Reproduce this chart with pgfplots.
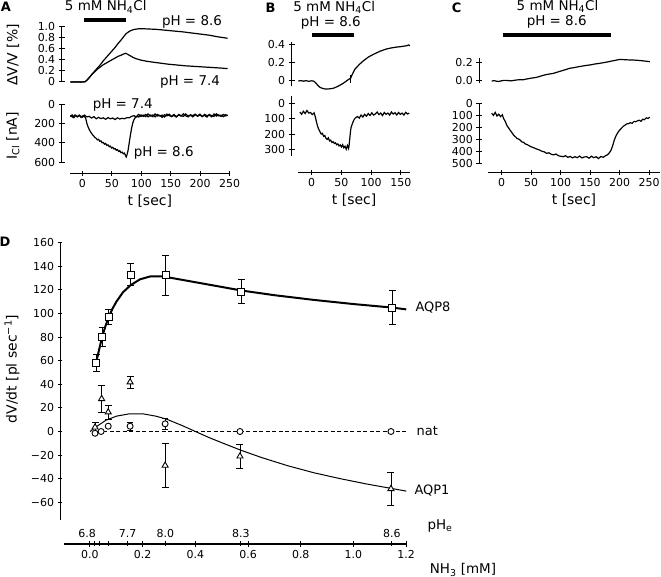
\documentclass[border=0pt]{standalone}
\usepackage{fontspec}
\setmainfont{DejaVu Sans}
\usepackage{pgfplots}
\pgfplotsset{compat=1.18}
\newcommand\fs[1]{\fontsize{#1}{#1}\selectfont}

\pgfplotsset{
  base/.style={scale only axis, clip=false,
    tick style={line width=1bp,black},
    major tick length=6bp, tick align=outside,
    /pgf/number format/assume math mode=true,
    tick label style={font=\fs{11}},
    cycle list={{black, mark=none}},
    every axis plot/.append style={line width=1.2bp}},
  noarrows/.style={axis line style={line width=1bp,-},
    x axis line style={-}, y axis line style={-}},
  trace/.style={base, axis x line=none, axis y line=left, xtick=\empty, noarrows},
  taxis/.style={base, axis x line=bottom, axis y line=none, ymin=0, ymax=1, y=1bp,
    ytick=\empty, major tick length=5bp, xtick={0,50,100,150,200,250},
    xlabel={t [sec]}, xlabel style={font=\fs{14}}, noarrows},
}

\begin{document}
\begin{tikzpicture}
\path[use as bounding box] (0,0) rectangle (661bp,577bp);

% ---------------- panel A ----------------
\begin{axis}[trace, at={(61.7bp,495bp)}, anchor=south west, x=0.589bp, y=55.7bp,
  xmin=-35.6, xmax=250, ymin=0, ymax=1,
  ytick={0,0.2,0.4,0.6,0.8,1}, yticklabels={0,0.2,0.4,0.6,0.8,1.0}]
\addplot[line width=4bp] coordinates {(2,1.113) (73.5,1.113)};
\addplot coordinates {(-21,0.002)(-15,-0.003)(-10,0.003)(-5,0)(0,0.002)(4,0.005)(8,0.04)(12,0.09)(16,0.14)(20,0.19)(25,0.25)(30,0.31)(35,0.38)(40,0.44)(45,0.5)(50,0.56)(55,0.62)(60,0.69)(65,0.75)(70,0.82)(74,0.87)(78,0.9)(82,0.925)(88,0.945)(95,0.955)(105,0.955)(115,0.95)(125,0.945)(140,0.93)(155,0.915)(170,0.9)(185,0.88)(200,0.86)(215,0.84)(230,0.81)(240,0.795)(246,0.785)};
\addplot coordinates {(-21,0)(-15,0.003)(-10,-0.002)(-5,0.002)(0,0)(4,0.004)(8,0.04)(12,0.09)(16,0.14)(20,0.18)(25,0.23)(30,0.27)(35,0.31)(40,0.34)(45,0.37)(50,0.4)(55,0.43)(60,0.46)(65,0.48)(70,0.505)(73,0.515)(76,0.5)(80,0.475)(85,0.445)(90,0.42)(100,0.39)(110,0.37)(120,0.355)(131,0.34)(145,0.32)(160,0.305)(175,0.29)(190,0.28)(205,0.27)(220,0.26)(235,0.25)(246,0.24)};
\end{axis}

\begin{axis}[trace, at={(61.7bp,414.7bp)}, anchor=south west, x=0.589bp, y=0.0967bp,
  y dir=reverse, xmin=-35.6, xmax=250, ymin=0, ymax=600, ytick={0,200,400,600}]
\addplot coordinates {(-21,118)(-17,132)(-13,110)(-9,128)(-5,115)(-1,135)(3,112)(7,130)(11,125)(15,142)(19,128)(23,150)(27,135)(31,148)(35,140)(39,155)(43,138)(47,150)(51,142)(55,158)(59,140)(63,152)(67,145)(71,150)(75,138)(79,140)(83,125)(87,118)(91,130)(95,105)(99,125)(103,112)(107,128)(111,100)(115,122)(119,110)(123,130)(127,105)(131,120)(135,112)(139,132)(143,102)(147,118)(151,125)(155,105)(159,128)(163,112)(167,122)(171,98)(175,120)(179,130)(183,108)(187,118)(191,102)(195,125)(199,110)(203,128)(207,104)(211,118)(215,112)(219,130)(223,100)(227,122)(231,110)(235,126)(239,105)(243,120)(246,112)};
\addplot coordinates {(-21,125)(-18,110)(-15,138)(-12,118)(-9,130)(-6,112)(-3,135)(0,120)(3,128)(5,140)(7,195)(9,232)(11,258)(13,282)(15,300)(17,318)(19,330)(21,345)(23,352)(25,368)(27,362)(29,382)(31,378)(33,398)(35,395)(37,412)(39,405)(41,425)(43,420)(45,438)(47,432)(49,452)(51,445)(53,462)(55,458)(57,475)(59,468)(61,488)(63,480)(65,500)(67,495)(69,512)(71,505)(73,535)(74,545)(75,528)(77,480)(79,400)(81,320)(83,250)(85,195)(87,160)(89,140)(92,125)(95,132)(99,110)(103,125)(107,105)(111,130)(115,112)(119,128)(123,100)(127,122)(131,115)(135,135)(139,108)(143,120)(147,102)(151,128)(155,115)(159,132)(163,105)(167,118)(171,125)(175,100)(179,122)(183,112)(187,130)(191,108)(195,120)(199,102)(203,125)(207,115)(211,132)(215,105)(219,118)(223,125)(227,98)(231,120)(235,112)(239,128)(243,108)(246,118)};
\end{axis}

\begin{axis}[taxis, at={(70bp,403.7bp)}, anchor=south west, x=0.589bp, xmin=-21, xmax=250]
\addplot[draw=none] coordinates {(0,0)};
\end{axis}

% ---------------- panel B ----------------
\begin{axis}[trace, at={(291.7bp,490.5bp)}, anchor=south west, x=0.595bp, y=91.7bp,
  xmin=-33.6, xmax=165, ymin=-0.06, ymax=0.43,
  ytick={0,0.2,0.4}, yticklabels={0,0.2,0.4}]
\addplot[line width=4bp] coordinates {(0,0.502) (71,0.502)};
\addplot coordinates {(-22.5,0)(-18,0.004)(-14,-0.002)(-10,0.003)(-5,-0.003)(0,0.002)(2.7,0)(6,-0.015)(8,-0.03)(11,-0.052)(14,-0.07)(18,-0.08)(22,-0.086)(25,-0.088)(29,-0.086)(33,-0.083)(36,-0.08)(40,-0.07)(45,-0.055)(49,-0.04)(53,-0.025)(58,-0.002)(61.5,0.015)(65.5,0.03)(68,0.07)(72.8,0.13)(80,0.18)(86.8,0.22)(95,0.26)(103.5,0.29)(115,0.325)(126,0.35)(135,0.362)(143,0.37)(150,0.375)(155,0.38)(160,0.385)(163,0.393)(165,0.385)};
\addplot coordinates {(65.5,-0.02)(65.5,0.07)};
\end{axis}

\begin{axis}[trace, at={(291.7bp,420.9bp)}, anchor=south west, x=0.595bp, y=0.152bp,
  y dir=reverse, xmin=-33.6, xmax=165, ymin=-50, ymax=345, ytick={0,100,200,300}]
\addplot coordinates {(-20,55)(-17,70)(-14,50)(-11,65)(-8,45)(-5,62)(-2,58)(1,72)(4,60)(6,85)(8,120)(10,150)(12,170)(14,185)(16,200)(18,195)(20,215)(22,210)(24,228)(26,235)(28,225)(30,245)(32,240)(34,255)(36,250)(38,262)(40,258)(42,270)(44,265)(46,278)(48,272)(50,285)(52,270)(54,290)(56,280)(58,300)(60,275)(62,295)(63,270)(64,230)(65,190)(66,160)(68,135)(70,115)(72,100)(74,92)(77,85)(80,95)(83,75)(86,88)(89,70)(92,82)(95,65)(98,78)(101,60)(104,75)(107,68)(110,55)(113,72)(116,62)(119,78)(122,58)(125,70)(128,62)(131,75)(134,55)(137,68)(140,60)(143,74)(146,58)(149,70)(152,62)(155,75)(158,57)(161,68)(164,62)};
\end{axis}

\begin{axis}[taxis, at={(298.3bp,404.3bp)}, anchor=south west, x=0.595bp, xmin=-22.5, xmax=165,
  xtick={0,50,100,150}]
\addplot[draw=none] coordinates {(0,0)};
\end{axis}

% ---------------- panel C ----------------
\begin{axis}[trace, at={(479.3bp,493.5bp)}, anchor=south west, x=0.59bp, y=92bp,
  xmin=-38, xmax=255, ymin=-0.03, ymax=0.245,
  ytick={0,0.2}, yticklabels={0.0,0.2}]
\addplot[line width=4bp] coordinates {(1.7,0.497) (186,0.497)};
\addplot coordinates {(-17,-0.005)(-13,0.002)(-10,-0.004)(-5,-0.008)(0,0)(5,0.004)(10,0.003)(15,-0.002)(20,0.003)(25,0.008)(31,0.012)(36,0.01)(40,0.016)(45,0.022)(50,0.028)(55,0.033)(59,0.037)(65,0.048)(70,0.058)(75,0.066)(80,0.072)(87.5,0.08)(95,0.095)(100,0.105)(108,0.12)(115,0.135)(122,0.142)(130,0.152)(137,0.16)(144,0.167)(150,0.172)(158,0.182)(165,0.188)(172,0.196)(180,0.205)(187,0.215)(193,0.222)(200,0.232)(205,0.23)(210,0.228)(216,0.226)(223,0.225)(230,0.222)(237,0.218)(245,0.212)(251,0.207)};
\end{axis}

\begin{axis}[trace, at={(479.3bp,413bp)}, anchor=south west, x=0.59bp, y=0.1215bp,
  y dir=reverse, xmin=-38, xmax=255, ymin=0, ymax=500, ytick={0,100,200,300,400,500}]
\addplot coordinates {(-17,82)(-14,100)(-11,75)(-8,105)(-5,90)(-2,110)(1,95)(3,124)(6,150)(9,185)(12,205)(14,220)(17,240)(20,262)(23,275)(26,290)(29,295)(31,302)(34,318)(37,322)(40,335)(43,340)(46,348)(49,357)(52,362)(56,370)(60,378)(64,385)(68,395)(72,400)(76,412)(80,408)(84,420)(88,425)(92,418)(96,432)(100,436)(104,440)(108,432)(112,445)(116,438)(120,450)(124,440)(128,448)(132,435)(136,450)(140,442)(144,440)(148,452)(152,436)(156,448)(160,440)(164,455)(168,438)(172,445)(176,432)(179,425)(182,410)(185,390)(188,350)(191,300)(194,265)(197,240)(200,220)(203,205)(206,190)(209,180)(212,170)(215,168)(218,160)(221,165)(224,150)(227,152)(230,145)(233,140)(236,148)(239,132)(242,135)(245,120)(248,125)(251,115)};
\end{axis}

\begin{axis}[taxis, at={(488.3bp,404.3bp)}, anchor=south west, x=0.59bp, xmin=-22.6, xmax=268]
\addplot[draw=none] coordinates {(0,0)};
\end{axis}

% ---------------- panel D ----------------
\begin{axis}[base, axis x line=none, axis y line=left, xtick=\empty, noarrows,
  at={(60bp,57bp)}, anchor=south west, x=263.5bp, y=1.18bp,
  xmin=-0.114, xmax=1.2, ymin=-75, ymax=160, major tick length=5bp,
  ytick={-60,-40,-20,0,20,40,60,80,100,120,140,160},
  yticklabels={−60,−40,−20,0,20,40,60,80,100,120,140,160}]
% AQP8 fit
\addplot[line width=2bp] coordinates {(0.024,59)(0.035,70)(0.046,80)(0.058,89)(0.071,97)(0.085,104)(0.1,110)(0.125,118)(0.154,124)(0.19,129)(0.23,131.5)(0.27,131.5)(0.3,130.5)(0.4,126.5)(0.5,122.5)(0.574,119.5)(0.7,115.5)(0.85,111.5)(1.0,108)(1.147,105)(1.2,103.5)};
% AQP1 fit
\addplot[line width=1bp] coordinates {(0,0)(0.03,5)(0.06,9.5)(0.1,13)(0.15,15)(0.2,15)(0.25,13)(0.29,10.5)(0.35,5)(0.4,0)(0.45,-5)(0.5,-9.5)(0.574,-16)(0.65,-22)(0.75,-29)(0.85,-35)(0.95,-40)(1.05,-44.5)(1.15,-48.5)(1.2,-50.5)};
% native
\addplot[line width=0.9bp, dash pattern=on 4bp off 2.5bp] coordinates {(0.025,0)(1.2,0)};
\addplot[only marks, mark=square*, mark size=3.5bp, mark options={fill=white, line width=0.9bp},
  error bars/.cd, y dir=both, y explicit,
  error bar style={line width=0.9bp}, error mark options={rotate=90, mark size=3.5bp, line width=0.9bp}]
  coordinates {(0.024,58) +- (0,7) (0.046,80.5) +- (0,8) (0.071,97) +- (0,6.5) (0.154,133) +- (0,9) (0.287,132.5) +- (0,17) (0.574,118.5) +- (0,10) (1.147,105) +- (0,14.5)};
\addplot[only marks, mark=triangle*, mark size=3.5bp, mark options={fill=white, line width=0.9bp},
  error bars/.cd, y dir=both, y explicit,
  error bar style={line width=0.9bp}, error mark options={rotate=90, mark size=3.5bp, line width=0.9bp}]
  coordinates {(0.019,3.6) +- (0,4) (0.044,27.7) +- (0,11.5) (0.069,16.4) +- (0,6) (0.152,41.8) +- (0,5) (0.285,-28.8) +- (0,19) (0.569,-21) +- (0,10) (1.142,-48.6) +- (0,14)};
\addplot[only marks, mark=*, mark size=3bp, mark options={fill=white, line width=0.9bp},
  error bars/.cd, y dir=both, y explicit,
  error bar style={line width=0.9bp}, error mark options={rotate=90, mark size=3bp, line width=0.9bp}]
  coordinates {(0.019,-1.5) +- (0,0) (0.042,0) +- (0,0) (0.069,4.5) +- (0,0) (0.152,4.5) +- (0,3.3) (0.285,6.5) +- (0,4.5) (0.569,0) +- (0,0) (1.142,0) +- (0,0)};
\node[anchor=west, font=\fs{13}] at (axis cs:1.222,105) {AQP8};
\node[anchor=west, font=\fs{13}] at (axis cs:1.226,0) {nat};
\node[anchor=west, font=\fs{13}] at (axis cs:1.218,-50) {AQP1};
\end{axis}

% NH3 axis
\begin{axis}[base, axis x line=bottom, axis y line=none, ytick=\empty, noarrows,
  at={(63.6bp,33bp)}, anchor=south west, x=263.5bp, y=1bp, ymin=0, ymax=1,
  xmin=-0.1, xmax=1.2, major tick length=5bp,
  xtick={0,0.2,0.4,0.6,0.8,1.0,1.2},
  xticklabel style={/pgf/number format/.cd, fixed, fixed zerofill, precision=1}]
\addplot[draw=none] coordinates {(0,0)};
\end{axis}
% pHe axis
\begin{axis}[base, axis x line=top, axis y line=none, ytick=\empty, noarrows,
  at={(63.6bp,33bp)}, anchor=north west, x=263.5bp, y=1bp, ymin=0, ymax=1,
  xmin=-0.1, xmax=1.2, major tick length=5bp,
  xtick={0.0179,0.0358,0.0716,0.1433,0.2865,0.573,1.146},
  xticklabels={\makebox[0pt]{6.8\hspace{15bp}},,,7.7,8.0,8.3,8.6}]
\addplot[draw=none] coordinates {(0,0)};
\end{axis}

% ---------------- texts ----------------
\node[font=\bfseries\fs{13}] at (6bp,570.5bp) {A};
\node[font=\bfseries\fs{13}] at (270.5bp,569bp) {B};
\node[font=\bfseries\fs{13}] at (456.7bp,569bp) {C};
\node[font=\bfseries\fs{13}] at (5bp,335bp) {D};

\node[anchor=base, font=\fs{13.5}] at (105.8bp,566bp) {5 mM NH\textsubscript{4}Cl};
\node[anchor=base, font=\fs{13.5}] at (334.2bp,565.3bp) {5 mM NH\textsubscript{4}Cl};
\node[anchor=base, font=\fs{13.5}] at (557.5bp,566.3bp) {5 mM NH\textsubscript{4}Cl};
\node[anchor=base, font=\fs{13.5}] at (330.8bp,550.3bp) {pH = 8.6};
\node[anchor=base, font=\fs{13.5}] at (556.7bp,551bp) {pH = 8.6};

\node[anchor=base, font=\fs{13.5}] at (192bp,551.3bp) {pH = 8.6};
\node[anchor=base, font=\fs{13.5}] at (190bp,491.3bp) {pH = 7.4};
\node[anchor=base, font=\fs{13.5}] at (122.7bp,468.7bp) {pH = 7.4};
\node[anchor=base, font=\fs{13.5}] at (163.7bp,420.3bp) {pH = 8.6};

\node[rotate=90, font=\fs{14}] at (13bp,522bp) {ΔV/V [\%]};
\node[rotate=90, font=\fs{14}] at (13bp,441bp) {I\textsubscript{Cl} [nA]};
\node[rotate=90, font=\fs{14}] at (12bp,208bp) {dV/dt [pl sec\textsuperscript{−1}]};

\node[font=\fs{13.5}] at (440bp,51bp) {pH\textsubscript{e}};
\node[font=\fs{13.5}] at (463bp,7bp) {NH\textsubscript{3} [mM]};
\end{tikzpicture}
\end{document}
